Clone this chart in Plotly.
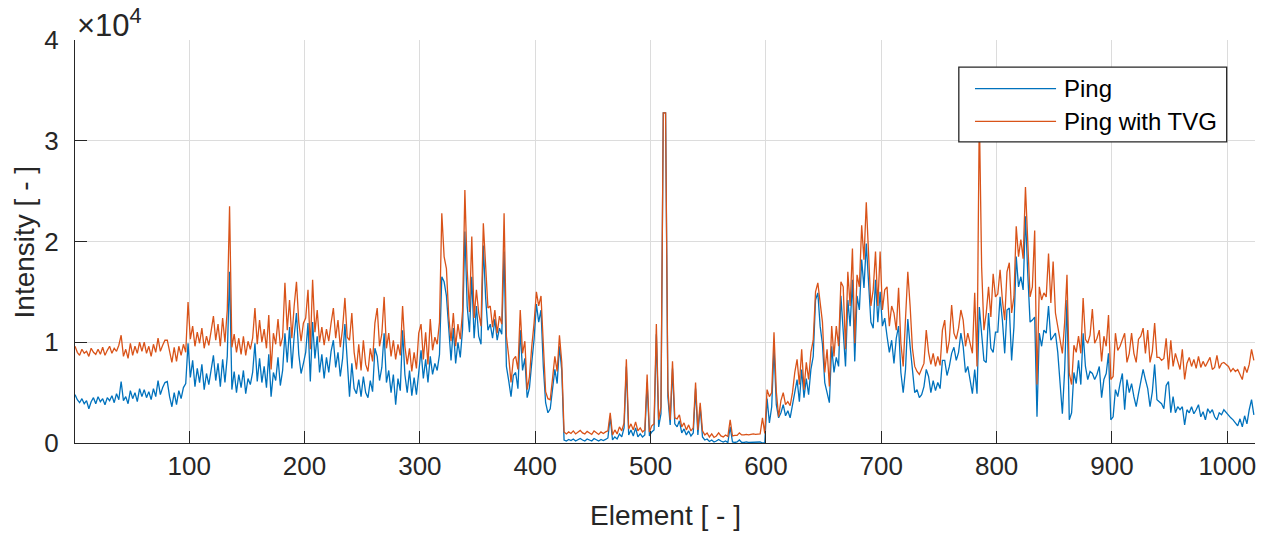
import plotly.graph_objects as go

# Element index (every second element of the 1024-element ping)
elements = list(range(1, 1024, 2))

# Intensity values in thousands (axis shows x10^4)
ping = [
    4.8, 4.3, 4.0, 4.4, 3.9, 4.2, 3.4, 4.1, 4.5, 3.9,
    4.6, 4.1, 4.4, 3.8, 4.5, 4.2, 4.7, 4.0, 4.9, 4.3,
    6.1, 4.2, 4.6, 3.9, 5.2, 4.4, 5.0, 4.1, 5.4, 4.6,
    5.3, 4.5, 5.1, 4.3, 5.4, 4.6, 6.2, 4.8, 5.5, 6.0,
    6.1, 4.6, 3.6, 5.0, 3.8, 5.2, 4.4, 5.5, 5.9, 9.9,
    6.5, 8.2, 5.6, 7.4, 6.0, 7.8, 5.3, 6.9, 5.8, 7.2,
    8.7, 6.2, 7.9, 5.6, 8.3, 6.0, 8.6, 17.0, 5.3, 7.1,
    5.0, 6.8, 5.5, 7.2, 4.9, 6.4, 5.8, 7.0, 9.9, 6.1,
    8.4, 6.0, 7.6, 5.5, 8.8, 4.6, 7.0, 6.2, 8.5, 5.7,
    7.2, 10.9, 8.0, 11.5, 7.4, 10.6, 12.9, 8.8, 6.9, 7.9,
    9.0, 11.9, 6.1, 12.0, 8.4, 10.6, 7.0, 8.8, 6.4, 8.5,
    7.0, 9.1, 10.2, 7.5, 9.0, 6.6, 8.4, 11.8, 7.8, 4.6,
    7.9, 5.4, 4.9, 6.3, 4.6, 6.6, 5.0, 4.5, 6.2, 5.1,
    9.4, 8.6, 6.2, 7.5, 10.9, 6.0, 7.2, 5.0, 6.8, 3.8,
    6.4, 5.2, 11.2, 6.8, 5.0, 7.2, 4.7, 6.5, 4.8, 6.9,
    9.2, 6.4, 8.3, 6.0, 8.6, 6.8, 7.9, 7.2, 8.8, 16.5,
    16.0, 14.6, 10.9, 8.2, 11.4, 7.9, 10.0, 8.5, 11.3, 21.0,
    13.6, 11.0, 16.5, 10.4, 13.6, 10.6, 9.8, 19.6, 14.4, 11.2,
    11.8, 10.4, 12.3, 10.2, 11.4, 10.8, 19.0, 7.6, 6.2, 4.6,
    6.7, 7.0, 5.4, 11.2, 7.2, 8.4, 4.5, 5.5, 8.0, 10.3,
    13.8, 12.0, 13.2, 7.6, 4.0, 3.0, 3.4, 5.2, 7.3, 5.9,
    9.6, 7.2, 0.3, 0.2, 0.35, 0.25, 0.4, 0.2, 0.3, 0.45,
    0.3, 0.2, 0.4, 0.3, 0.2, 0.45, 0.3, 0.2, 0.35, 0.25,
    0.35, 0.5, 2.6, 0.3, 0.6, 0.4, 0.9, 0.6, 1.5, 7.6,
    0.8, 1.3, 0.7, 1.5, 0.6, 0.9, 0.6, 0.8, 6.0, 0.7,
    1.1, 1.3, 10.8, 1.6, 2.9, 32.767, 32.767, 4.6, 1.8, 7.4,
    1.9, 1.6, 2.2, 1.0, 1.4, 0.8, 1.2, 0.7, 1.0, 5.4,
    0.8, 3.6, 0.6, 0.3, 0.4, 0.15, 0.3, 0.1, 0.2, 0.35,
    0.2, 0.1, 0.2, 0.05, 1.6, 0.1, 0.05, 0.1, 0.3, 0.05,
    0.05, 0.1, 0.05, 0.05, 0.1, 0.05, 0.05, 0.1, 0.0, 0.0,
    4.4, 2.0, 3.6, 9.4, 3.8, 2.5, 3.0, 3.8, 2.7, 3.2,
    2.5, 3.9, 5.2, 6.3, 4.1, 7.3, 4.5, 6.4, 4.8, 7.3,
    8.6, 14.2, 14.9, 11.6, 9.8, 6.0, 5.0, 4.0, 9.6, 7.0,
    8.5, 7.6, 14.6, 11.0, 7.6, 14.2, 11.6, 16.2, 8.1, 14.6,
    13.2, 18.2, 15.4, 19.8, 15.4, 12.0, 11.4, 16.2, 12.0, 15.0,
    11.6, 12.4, 10.6, 9.0, 10.2, 7.9, 10.4, 11.6, 7.0, 5.0,
    7.3, 12.3, 9.6, 7.0, 5.0, 5.3, 4.5, 4.8, 5.6, 7.3,
    6.6, 5.0, 6.2, 5.2, 6.0, 5.4, 8.2, 8.2, 6.7, 7.6,
    8.9, 9.5, 8.2, 9.0, 10.9, 9.6, 7.0, 7.6, 6.4, 4.9,
    7.3, 4.9, 13.5, 10.9, 8.2, 8.0, 12.9, 9.4, 9.0, 11.0,
    11.0, 14.5, 12.2, 8.9, 13.2, 13.4, 8.2, 11.5, 18.5, 15.5,
    16.5, 15.2, 22.5, 16.8, 12.0, 12.2, 12.5, 2.6, 10.9, 9.6,
    11.2, 10.9, 13.6, 10.2, 10.6, 10.9, 9.0, 6.2, 2.9, 7.3,
    14.2, 2.3, 3.0, 7.0, 5.9, 8.2, 5.8, 10.9, 7.6, 6.3,
    7.1, 6.9, 6.3, 6.8, 7.6, 4.5, 6.3, 6.9, 8.9, 2.3,
    2.6, 5.3, 4.6, 5.9, 6.9, 3.3, 6.3, 5.0, 5.9, 4.6,
    3.6, 4.9, 6.0, 7.3, 6.3, 5.4, 3.6, 5.1, 7.8, 4.3,
    4.1, 3.9, 3.4, 5.7, 6.1, 3.0, 4.6, 3.0, 3.6, 3.3,
    3.6, 1.8, 3.3, 3.0, 3.6, 2.9, 3.3, 3.8, 2.6, 3.1,
    2.3, 3.4, 3.0, 3.3, 2.6, 2.3, 3.0, 2.8, 3.3, 3.0,
    2.8, 2.5, 2.3, 2.0, 1.7, 2.4, 1.6, 2.7, 1.9, 3.3,
    4.3, 2.8,
]

ping_tvg = [
    9.6, 9.0, 8.7, 9.3, 8.9, 9.1, 8.6, 9.4, 9.0, 8.8,
    9.3, 8.8, 9.5, 8.7, 9.2, 9.6, 8.9, 9.4, 9.1, 9.7,
    10.7, 8.6, 9.3, 8.4, 9.9, 8.7, 9.6, 8.9, 10.0, 9.1,
    10.0, 8.9, 9.6, 8.6, 9.8, 9.0, 10.4, 9.1, 9.7, 10.2,
    10.2, 8.9, 8.0, 9.5, 8.1, 9.6, 8.7, 9.8, 9.0, 14.0,
    10.3, 11.6, 9.6, 11.0, 9.9, 11.4, 9.4, 10.6, 9.7, 11.1,
    12.6, 10.2, 11.8, 9.6, 12.4, 10.0, 13.2, 23.5, 9.5, 10.8,
    9.0, 10.4, 8.8, 10.6, 8.7, 10.1, 9.3, 10.4, 13.4, 9.8,
    12.2, 10.0, 11.3, 9.4, 12.7, 7.3, 10.9, 9.8, 12.3, 9.6,
    10.5, 15.9, 11.2, 14.2, 10.4, 13.6, 16.0, 12.0, 10.1, 11.9,
    12.4, 15.2, 9.3, 16.2, 11.0, 13.2, 10.0, 11.5, 9.7, 11.3,
    10.1, 11.9, 13.4, 10.4, 12.2, 9.5, 11.4, 14.4, 10.5, 10.2,
    12.9, 9.0, 7.3, 9.8, 7.2, 10.2, 7.8, 7.1, 9.4, 8.1,
    11.9, 13.4, 9.6, 10.8, 14.5, 9.4, 10.9, 8.6, 10.2, 8.3,
    9.8, 8.7, 13.6, 9.6, 7.8, 9.4, 7.1, 9.0, 7.4, 10.9,
    11.8, 8.3, 11.0, 7.8, 12.3, 9.2, 10.5, 9.8, 12.0, 22.8,
    18.5, 17.3, 12.6, 10.1, 12.9, 9.6, 11.8, 10.3, 13.1, 25.1,
    17.2, 13.0, 20.5, 12.4, 15.2, 12.9, 11.6, 21.8, 17.5, 13.4,
    13.6, 11.5, 13.2, 10.9, 12.6, 11.8, 22.8, 10.6, 8.6, 6.0,
    8.3, 8.6, 7.3, 13.2, 8.9, 10.1, 5.3, 6.6, 9.6, 11.9,
    15.0, 13.6, 14.6, 9.0, 5.1, 4.4, 4.3, 6.4, 8.6, 7.1,
    10.7, 8.0, 1.1, 0.9, 1.1, 0.95, 1.2, 0.9, 1.05, 1.25,
    1.0, 0.9, 1.15, 1.0, 0.85, 1.2, 1.0, 0.85, 1.1, 0.95,
    1.1, 1.2, 3.0, 0.8, 1.3, 0.9, 1.6, 1.2, 2.0, 8.3,
    1.4, 1.9, 1.3, 2.1, 1.2, 1.5, 1.1, 1.3, 6.8, 1.1,
    1.7, 1.9, 11.8, 2.3, 3.6, 32.767, 32.767, 5.3, 2.3, 8.1,
    2.5, 2.4, 2.8, 1.6, 2.0, 1.3, 1.8, 1.2, 1.5, 6.0,
    1.3, 4.0, 1.2, 0.8, 1.0, 0.6, 0.9, 0.55, 0.7, 1.0,
    0.7, 0.6, 0.8, 0.65, 2.3, 0.7, 0.75, 0.75, 1.0, 0.8,
    0.8, 0.85, 0.8, 0.85, 0.9, 0.85, 0.9, 0.9, 2.5, 0.95,
    5.3, 4.6, 5.0, 11.0, 5.1, 2.6, 4.2, 5.0, 3.8, 4.1,
    3.7, 5.0, 7.0, 8.3, 5.8, 9.3, 5.3, 8.0, 6.3, 9.0,
    10.2, 15.0, 15.9, 14.2, 12.0, 7.0, 9.3, 5.6, 11.6, 8.6,
    11.6, 9.6, 16.0, 15.5, 9.3, 17.0, 13.6, 19.3, 9.9, 16.7,
    15.5, 21.6, 18.2, 23.9, 18.5, 13.6, 15.2, 19.0, 13.6, 19.0,
    13.2, 15.2, 15.5, 11.6, 13.6, 12.9, 11.2, 15.4, 9.9, 7.6,
    12.3, 17.0, 13.6, 9.4, 7.6, 7.1, 6.8, 7.4, 7.9, 11.2,
    9.0, 7.8, 8.9, 7.6, 8.6, 7.7, 11.2, 12.2, 8.9, 10.2,
    13.7, 10.9, 10.3, 11.4, 13.2, 12.2, 9.6, 10.9, 9.8, 8.9,
    14.9, 7.6, 32.767, 17.5, 11.2, 12.9, 15.5, 12.5, 16.8, 14.5,
    14.8, 17.2, 14.2, 12.2, 17.0, 17.9, 12.9, 14.5, 21.5, 18.5,
    20.2, 18.3, 25.4, 19.5, 14.5, 15.5, 21.1, 5.8, 15.5, 14.2,
    14.9, 14.5, 18.8, 13.9, 18.0, 12.9, 11.5, 10.2, 8.9, 12.0,
    16.7, 6.9, 5.8, 9.7, 9.0, 10.6, 8.9, 14.4, 10.3, 9.9,
    10.7, 13.3, 9.9, 10.4, 11.2, 8.1, 10.6, 9.6, 12.7, 6.3,
    6.6, 10.9, 9.2, 9.6, 10.3, 10.9, 8.0, 8.9, 10.9, 8.9,
    8.0, 10.3, 10.6, 11.4, 8.9, 11.2, 8.0, 9.1, 11.9, 8.5,
    8.5, 8.2, 8.4, 10.4, 7.3, 10.2, 7.6, 8.9, 8.1, 7.3,
    9.3, 6.3, 7.9, 8.5, 7.6, 8.3, 7.4, 8.6, 7.5, 8.1,
    7.6, 8.0, 8.5, 7.3, 7.5, 8.7, 7.4, 7.9, 8.0, 7.8,
    7.6, 7.1, 7.4, 7.1, 7.3, 6.8, 6.3, 7.6, 7.0, 7.8,
    9.3, 8.2,
]

x_ticks = [100, 200, 300, 400, 500, 600, 700, 800, 900, 1000]
y_ticks = [0, 10, 20, 30, 40]
y_ticklabels = ["0", "1", "2", "3", "4"]
series_names = ["Ping", "Ping with TVG"]
series_colors = ["#0072BD", "#D95319"]

FONT = "Liberation Sans, Arial, Helvetica, sans-serif"
AX = "#262626"

fig = go.Figure()
for name, ys, col in zip(series_names, [ping, ping_tvg], series_colors):
    fig.add_trace(go.Scatter(x=elements, y=ys, mode="lines", name=name,
                             line=dict(color=col, width=1.3), showlegend=False))

fig.update_layout(
    width=1265, height=533, autosize=False,
    margin=dict(l=75, r=10, t=40, b=90, pad=0),
    paper_bgcolor="white", plot_bgcolor="white",
    font=dict(family=FONT, color=AX, size=26),
    xaxis=dict(range=[1, 1024], tickvals=x_ticks, ticks="inside", ticklen=12,
               tickwidth=1.3, tickcolor=AX, showline=True, linecolor=AX, linewidth=1.3,
               showgrid=True, gridcolor="#dcdcdc", gridwidth=1, zeroline=False,
               tickfont=dict(size=26, family=FONT, color=AX)),
    yaxis=dict(range=[0, 40], tickvals=y_ticks, ticktext=y_ticklabels, ticks="inside",
               ticklen=12, tickwidth=1.3, tickcolor=AX, showline=True, linecolor=AX,
               linewidth=1.3, showgrid=True, gridcolor="#dcdcdc", gridwidth=1,
               zeroline=False, ticklabelstandoff=10,
               tickfont=dict(size=26, family=FONT, color=AX)),
)

# Axis titles and exponent
fig.add_annotation(text="Element [ - ]", xref="paper", yref="paper", x=0.5, y=-0.18,
                   xanchor="center", yanchor="middle", showarrow=False,
                   font=dict(size=28, family=FONT, color=AX))
fig.add_annotation(text="Intensity [ - ]", xref="paper", yref="paper", x=-0.0424, y=0.5,
                   xanchor="center", yanchor="middle", textangle=-90, showarrow=False,
                   font=dict(size=28, family=FONT, color=AX))
fig.add_annotation(text="×10<sup>4</sup>", xref="paper", yref="paper", x=0, y=1,
                   xanchor="left", yanchor="bottom", xshift=0, yshift=-5, showarrow=False,
                   font=dict(size=31, family=FONT, color=AX))

# Legend box (MATLAB style)
lx0, lx1, ly0, ly1 = 0.749, 0.976, 0.747, 0.9327
fig.add_shape(type="rect", xref="paper", yref="paper", x0=lx0, x1=lx1, y0=ly0, y1=ly1,
              line=dict(color=AX, width=1.3), fillcolor="white", layer="above")
for i, (name, col) in enumerate(zip(series_names, series_colors)):
    yy = [0.8792, 0.7983][i]
    fig.add_shape(type="line", xref="paper", yref="paper", x0=0.7627, x1=0.8314,
                  y0=yy, y1=yy, line=dict(color=col, width=1.3), layer="above")
    fig.add_annotation(text=name, xref="paper", yref="paper", x=0.8365, y=yy,
                       xanchor="left", yanchor="middle", showarrow=False,
                       font=dict(size=24, family=FONT, color="black"))

fig.write_html("out.html")
